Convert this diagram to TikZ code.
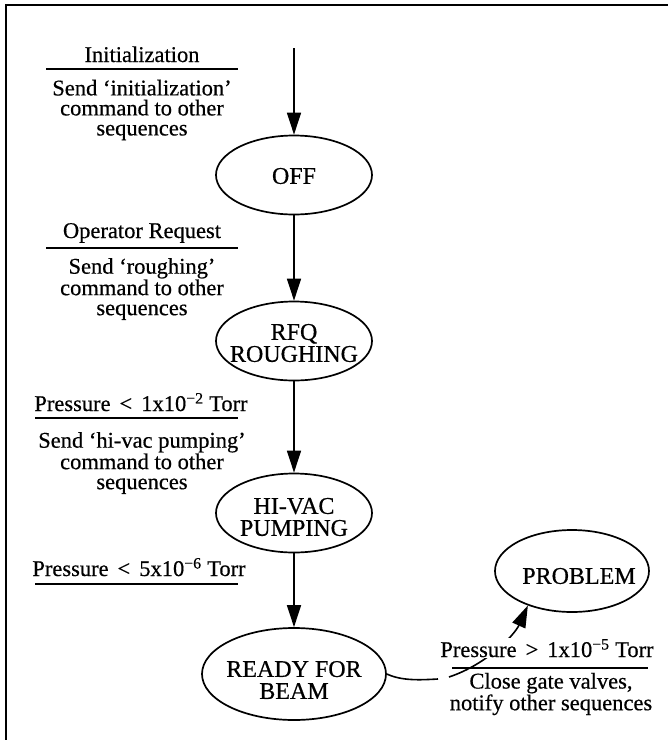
\documentclass[tikz,border=0pt]{standalone}
\usepackage{fontspec}
\setmainfont{Liberation Serif}[FakeBold=0.5]
\usetikzlibrary{arrows.meta,shapes.geometric}
\begin{document}
\begin{tikzpicture}[x=1pt,y=-1pt,
  every node/.style={font=\fontsize{22.5}{20}\selectfont},
  state/.style={draw, ellipse, line width=1.7pt, inner sep=0pt,
                minimum width=156pt, minimum height=79pt},
  statetext/.style={align=center, inner sep=0pt, font=\fontsize{24}{22}\selectfont},
  flow/.style={line width=1.6pt, -{Triangle[length=22pt,width=14pt]}},
  hdr/.style={anchor=base, inner sep=0pt},
  note/.style={align=center, inner sep=0pt},
  rule/.style={line width=1.4pt},
  gap/.style={hspace=0.32em}
]
\useasboundingbox (0,0) rectangle (668,740);

% frame (top and left edges)
\draw[line width=1.6pt] (668,5) -- (6,5) -- (6,740);

% states
\node[state] (off) at (294,175) {};
\node[statetext] (offT) at ([yshift=-1pt]off.center) {OFF};
\node[state] (rfq) at (294,341) {};
\node[statetext] (rfqT) at ([yshift=-2pt]rfq.center) {RFQ\\ROUGHING};
\node[state] (hivac) at (294,513) {};
\node[statetext] (hivacT) at ([yshift=-4pt]hivac.center) {HI-VAC\\PUMPING};
\node[state, minimum width=184pt, minimum height=92pt] (ready) at (294,674) {};
\node[statetext] (readyT) at ([yshift=-6pt]ready.center) {READY FOR\\BEAM};
\node[state, minimum width=154pt, minimum height=82pt] (problem) at (572,571) {};
\node[statetext] (problemT) at ([xshift=7pt,yshift=-5pt]problem.center) {PROBLEM};

% transitions
\coordinate (init) at (294,48);
\draw[flow] (init) -- (off);
\draw[flow] (off) -- (rfq);
\draw[flow] (rfq) -- (hivac);
\draw[flow] (hivac) -- (ready);

\coordinate (gapL) at (438,679);
\coordinate (gapR) at (449,677);
\draw[line width=1.6pt] (ready.east) .. controls (402,681) and (420,680) .. (gapL);
\draw[flow] (gapR) .. controls (488,664) and (515,634) .. (problem.218);

% transition labels: condition / action
\node[hdr] (h1) at (142,62) {Initialization};
\draw[rule] (46,69) -- (238,69);
\node[note] (a1) at (142,110) {Send ‘initialization’\\command to other\\sequences};

\node[hdr] (h2) at (142,238) {Operator Request};
\draw[rule] (46,248) -- (238,248);
\node[note] (a2) at (142,289) {Send ‘roughing’\\command to other\\sequences};

\node[hdr] (h3) at (141,411) {Pressure\hspace{0.4em}<\hspace{0.4em}1x10\textsuperscript{−2} Torr};
\draw[rule] (35,418) -- (238,418);
\node[note] (a3) at (142,463) {Send ‘hi-vac pumping’\\command to other\\sequences};

\node[hdr] (h4) at (139,576) {Pressure\hspace{0.4em}<\hspace{0.4em}5x10\textsuperscript{−6} Torr};
\draw[rule] (35,584) -- (238,584);

\node[hdr, fill=white, inner sep=1pt] (h5) at (547,657) {Pressure\hspace{0.4em}>\hspace{0.4em}1x10\textsuperscript{−5} Torr};
\draw[rule] (452,668) -- (648,668);
\node[note, font=\fontsize{22.5}{19}\selectfont] (a5) at (551,694) {Close gate valves,\\notify other sequences};
\end{tikzpicture}
\end{document}
